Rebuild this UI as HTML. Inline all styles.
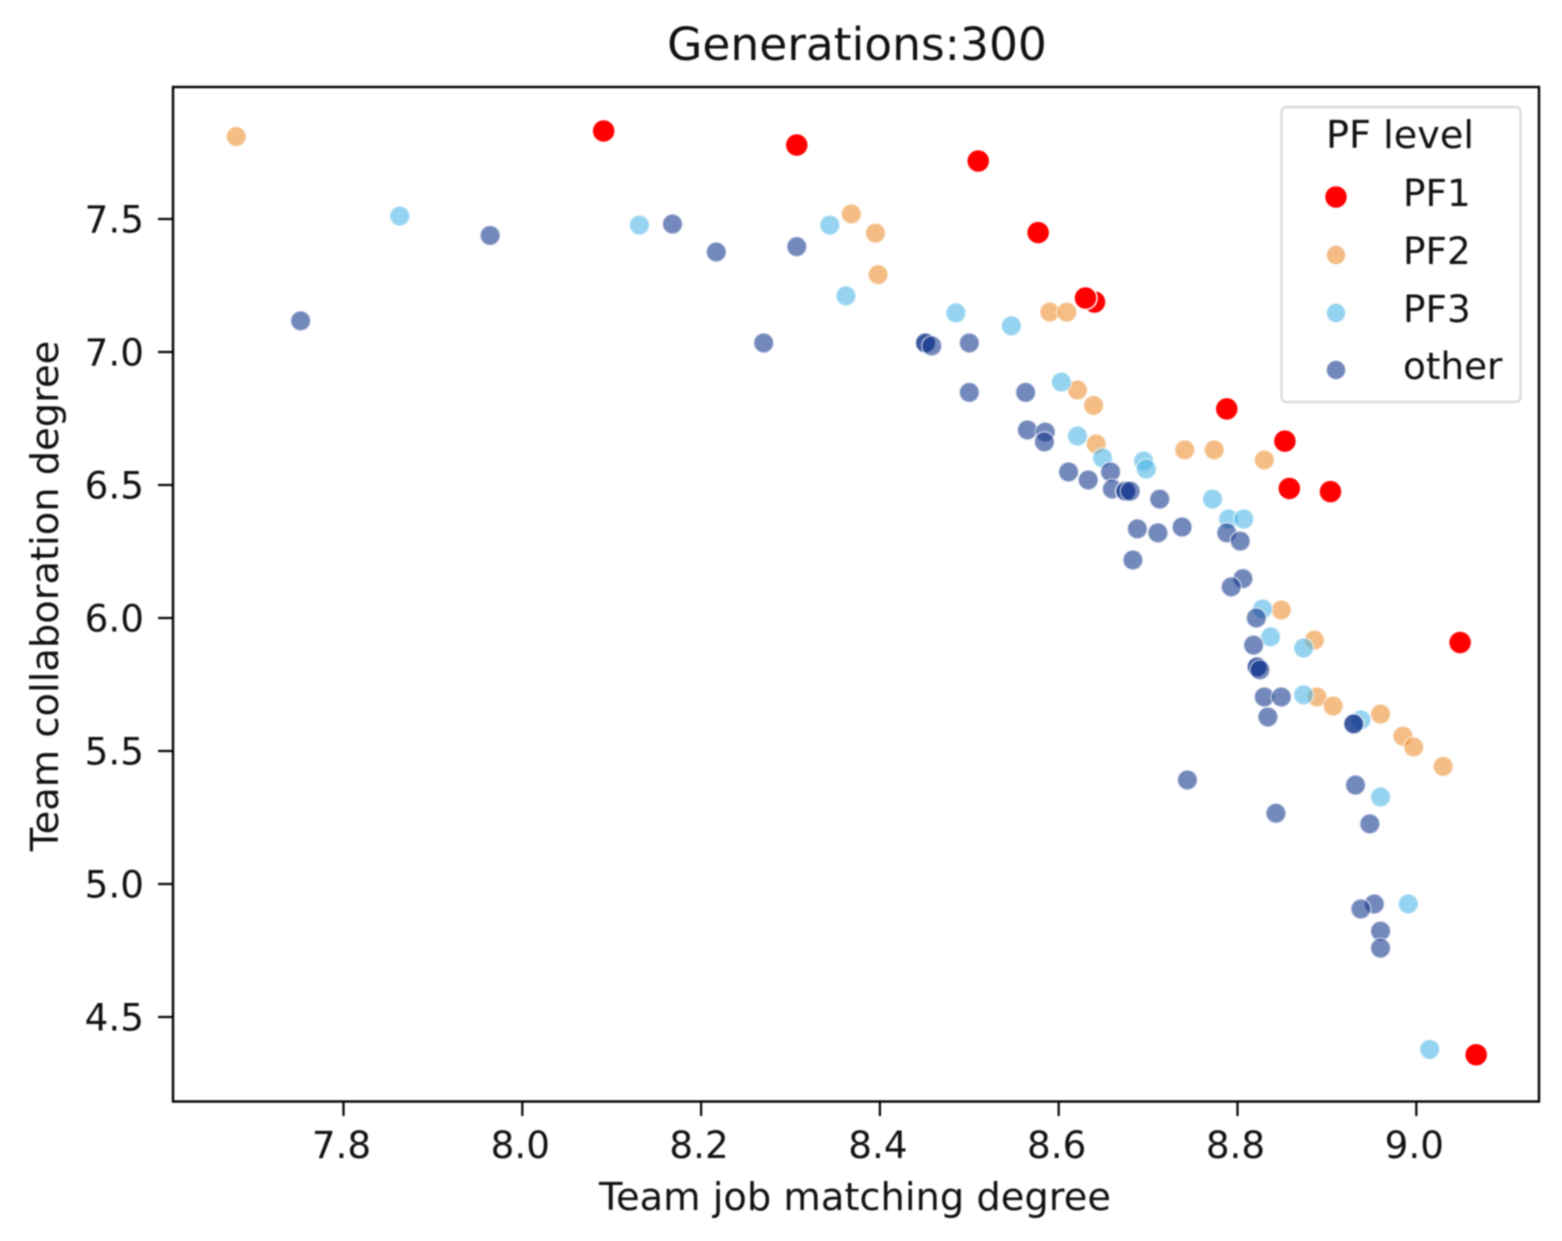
<!DOCTYPE html>
<html lang="en">
<head>
<meta charset="utf-8">
<title>Generations:300</title>
<style>
  html, body { margin: 0; padding: 0; background: #fff; }
  body { width: 1562px; height: 1241px; overflow: hidden; }
  svg { display: block; filter: blur(0.8px); }
  text { font-family: "DejaVu Sans", "Liberation Sans", sans-serif; fill: #111; }
</style>
</head>
<body>
<svg id="chart" xmlns="http://www.w3.org/2000/svg" width="1562" height="1241" viewBox="0 0 1562 1241">
  <rect x="173" y="87" width="1366" height="1014" fill="#fff"/>
  <g id="points"></g>
  <rect x="173" y="87" width="1366" height="1014.5" fill="none" stroke="#000" stroke-width="2.4"/>
  <g id="x-ticks"></g>
  <g id="y-ticks"></g>
  <text x="857" y="60" text-anchor="middle" font-size="45.5">Generations:300</text>
  <text x="855" y="1210" text-anchor="middle" font-size="38.4">Team job matching degree</text>
  <text transform="translate(58 596) rotate(-90)" text-anchor="middle" font-size="38.4">Team collaboration degree</text>
  <g>
    <rect x="1281.5" y="107" width="239" height="295" rx="5" fill="#fff" fill-opacity="0.8" stroke="#d8d8d8" stroke-width="2.2"/>
    <text x="1400" y="148" text-anchor="middle" font-size="38.2">PF level</text>
    <g>
      <circle cx="1336" cy="197" r="11.5" fill="#ff0000" stroke="#fff" stroke-width="1.5"/>
      <text x="1403" y="206" font-size="37.3">PF1</text>
    </g>
    <g>
      <circle cx="1336" cy="255" r="10" fill="#ed9134" fill-opacity="0.6" stroke="#fff" stroke-width="1.5"/>
      <text x="1403" y="264" font-size="37.3">PF2</text>
    </g>
    <g>
      <circle cx="1336" cy="313" r="10" fill="#4eb6e6" fill-opacity="0.6" stroke="#fff" stroke-width="1.5"/>
      <text x="1403" y="322" font-size="37.3">PF3</text>
    </g>
    <g>
      <circle cx="1336" cy="370" r="10" fill="#16398e" fill-opacity="0.6" stroke="#fff" stroke-width="1.5"/>
      <text x="1403" y="379" font-size="37.3">other</text>
    </g>
  </g>
</svg>
<script>
const xTickValues = [7.8, 8.0, 8.2, 8.4, 8.6, 8.8, 9.0];
const xTickLabels = ["7.8", "8.0", "8.2", "8.4", "8.6", "8.8", "9.0"];
const yTickValues = [4.5, 5.0, 5.5, 6.0, 6.5, 7.0, 7.5];
const yTickLabels = ["4.5", "5.0", "5.5", "6.0", "6.5", "7.0", "7.5"];

const pf1X = [8.091, 8.307, 8.510, 8.577, 8.640, 8.630, 8.788, 8.853, 8.858, 8.904, 9.049, 9.067];
const pf1Y = [7.831, 7.778, 7.718, 7.449, 7.188, 7.203, 6.786, 6.665, 6.487, 6.475, 5.908, 4.358];

const pf2X = [7.680, 8.368, 8.395, 8.398, 8.590, 8.609, 8.621, 8.639, 8.642, 8.741, 8.774, 8.830, 8.849, 8.886, 8.889, 8.907, 8.960, 8.985, 8.997, 9.030];
const pf2Y = [7.810, 7.519, 7.447, 7.291, 7.150, 7.150, 6.857, 6.799, 6.654, 6.632, 6.632, 6.594, 6.030, 5.917, 5.703, 5.669, 5.639, 5.556, 5.515, 5.442];

const pf3X = [7.863, 8.131, 8.344, 8.362, 8.485, 8.547, 8.603, 8.621, 8.649, 8.695, 8.698, 8.772, 8.790, 8.807, 8.828, 8.837, 8.874, 8.874, 8.938, 8.960, 8.991, 9.015];
const pf3Y = [7.511, 7.477, 7.477, 7.211, 7.147, 7.098, 6.887, 6.684, 6.602, 6.590, 6.560, 6.447, 6.372, 6.372, 6.034, 5.929, 5.887, 5.711, 5.617, 5.327, 4.925, 4.378];

const otherX = [7.752, 7.964, 8.168, 8.217, 8.307, 8.270, 8.451, 8.451, 8.458, 8.500, 8.500, 8.563, 8.565, 8.585, 8.584, 8.611, 8.633, 8.658, 8.660, 8.675, 8.675, 8.680, 8.713, 8.688, 8.711, 8.738, 8.683, 8.788, 8.803, 8.806, 8.793, 8.821, 8.818, 8.822, 8.822, 8.825, 8.830, 8.849, 8.834, 8.930, 8.930, 8.744, 8.932, 8.843, 8.948, 8.953, 8.938, 8.960, 8.960];
const otherY = [7.117, 7.438, 7.481, 7.376, 7.396, 7.034, 7.034, 7.034, 7.023, 7.034, 6.848, 6.848, 6.707, 6.699, 6.662, 6.549, 6.519, 6.549, 6.485, 6.477, 6.477, 6.477, 6.447, 6.335, 6.320, 6.342, 6.218, 6.320, 6.289, 6.148, 6.117, 6.000, 5.898, 5.816, 5.816, 5.805, 5.703, 5.703, 5.628, 5.602, 5.602, 5.391, 5.372, 5.266, 5.226, 4.925, 4.906, 4.823, 4.759];

const SVG_NS = "http://www.w3.org/2000/svg";

function xScale(v) { return 343.5 + (v - 7.8) * 894; }
function yScale(v) { return 219 + (7.5 - v) * 266; }

function drawPoints(seriesName, xs, ys, color, radius, opacity) {
  const layer = document.getElementById("points");
  const group = document.createElementNS(SVG_NS, "g");
  
  
  xs.forEach(function (xValue, i) {
    const dot = document.createElementNS(SVG_NS, "circle");
    
    
    dot.setAttribute("cx", xScale(xValue));
    dot.setAttribute("cy", yScale(ys[i]));
    dot.setAttribute("r", radius);
    dot.setAttribute("fill", color);
    dot.setAttribute("fill-opacity", opacity);
    dot.setAttribute("stroke", "#fff");
    dot.setAttribute("stroke-opacity", opacity);
    dot.setAttribute("stroke-width", 1.5);
    group.appendChild(dot);
  });
  layer.appendChild(group);
}

function drawXTicks() {
  const layer = document.getElementById("x-ticks");
  xTickValues.forEach(function (value, i) {
    const px = xScale(value);
    const tick = document.createElementNS(SVG_NS, "line");
    
    
    tick.setAttribute("x1", px);
    tick.setAttribute("x2", px);
    tick.setAttribute("y1", 1101);
    tick.setAttribute("y2", 1116);
    tick.setAttribute("stroke", "#000");
    tick.setAttribute("stroke-width", 2.2);
    layer.appendChild(tick);
    const label = document.createElementNS(SVG_NS, "text");
    
    
    label.setAttribute("x", px - 2);
    label.setAttribute("y", 1158);
    label.setAttribute("text-anchor", "middle");
    label.setAttribute("font-size", 37.3);
    label.textContent = xTickLabels[i];
    layer.appendChild(label);
  });
}

function drawYTicks() {
  const layer = document.getElementById("y-ticks");
  yTickValues.forEach(function (value, i) {
    const py = yScale(value);
    const tick = document.createElementNS(SVG_NS, "line");
    
    
    tick.setAttribute("x1", 158);
    tick.setAttribute("x2", 173);
    tick.setAttribute("y1", py);
    tick.setAttribute("y2", py);
    tick.setAttribute("stroke", "#000");
    tick.setAttribute("stroke-width", 2.2);
    layer.appendChild(tick);
    const label = document.createElementNS(SVG_NS, "text");
    
    
    label.setAttribute("x", 144);
    label.setAttribute("y", py + 13.5);
    label.setAttribute("text-anchor", "end");
    label.setAttribute("font-size", 37.3);
    label.textContent = yTickLabels[i];
    layer.appendChild(label);
  });
}

drawPoints("pf1", pf1X, pf1Y, "#ff0000", 11.5, 1);
drawPoints("pf2", pf2X, pf2Y, "#ed9134", 10, 0.6);
drawPoints("pf3", pf3X, pf3Y, "#4eb6e6", 10, 0.6);
drawPoints("other", otherX, otherY, "#16398e", 10, 0.6);
drawXTicks();
drawYTicks();
</script>
</body>
</html>
